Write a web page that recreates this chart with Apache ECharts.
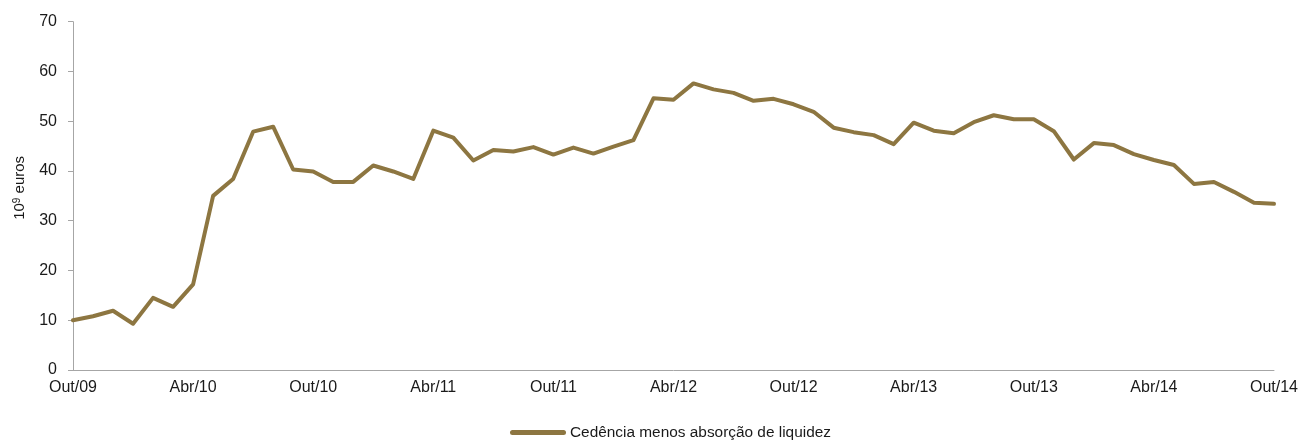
<!DOCTYPE html>
<html>
<head>
<meta charset="utf-8">
<script src="https://cdn.jsdelivr.net/npm/echarts@6/dist/echarts.min.js"></script>
<style>html,body{margin:0;padding:0;background:#fff}#c{width:1301px;height:441px}</style>
</head>
<body>
<div id="c"></div>
<script>
var categories = [
 'Out/09','Nov/09','Dez/09','Jan/10','Fev/10','Mar/10','Abr/10','Mai/10','Jun/10','Jul/10','Ago/10','Set/10',
 'Out/10','Nov/10','Dez/10','Jan/11','Fev/11','Mar/11','Abr/11','Mai/11','Jun/11','Jul/11','Ago/11','Set/11',
 'Out/11','Nov/11','Dez/11','Jan/12','Fev/12','Mar/12','Abr/12','Mai/12','Jun/12','Jul/12','Ago/12','Set/12',
 'Out/12','Nov/12','Dez/12','Jan/13','Fev/13','Mar/13','Abr/13','Mai/13','Jun/13','Jul/13','Ago/13','Set/13',
 'Out/13','Nov/13','Dez/13','Jan/14','Fev/14','Mar/14','Abr/14','Mai/14','Jun/14','Jul/14','Ago/14','Set/14',
 'Out/14'
];
var values = [
 10.0,10.8,11.9,9.3,14.5,12.7,17.2,35.0,38.4,47.9,48.9,40.3,
 39.9,37.8,37.8,41.1,39.9,38.4,48.1,46.7,42.1,44.2,43.9,44.8,
 43.3,44.7,43.5,44.9,46.2,54.6,54.3,57.6,56.4,55.7,54.1,54.5,
 53.4,51.9,48.7,47.8,47.2,45.4,49.7,48.1,47.6,49.8,51.2,50.4,
 50.4,48.0,42.3,45.6,45.2,43.4,42.2,41.2,37.4,37.8,35.8,33.6,
 33.4
];
var seriesName = 'Cedência menos absorção de liquidez';
var yAxisName = '{a|10}{sup|9}{a| euros}';

var font = '"Liberation Sans", Arial, sans-serif';
var chart = echarts.init(document.getElementById('c'), null, {renderer: 'canvas'});
chart.setOption({
  animation: false,
  grid: {left: 73, right: 23, top: 21.7, bottom: 71, containLabel: false},
  legend: {
    left: 510, top: 425, padding: 0,
    itemWidth: 56, itemHeight: 5, itemGap: 4,
    textStyle: {fontFamily: font, fontSize: 15.4, color: '#1a1a1a', padding: [4, 0, 0, -1]},
    data: [{name: seriesName, icon: 'path://M2.5,0 L53.5,0 A2.5,2.5 0 0 1 53.5,5 L2.5,5 A2.5,2.5 0 0 1 2.5,0 Z'}]
  },
  xAxis: {
    type: 'category',
    data: categories,
    boundaryGap: false,
    axisLine: {lineStyle: {color: '#a6a6a6', width: 1}},
    axisTick: {show: false},
    axisLabel: {interval: 5, color: '#1a1a1a', fontFamily: font, fontSize: 16, margin: 10}
  },
  yAxis: {
    type: 'value',
    min: 0, max: 70, interval: 10,
    name: yAxisName,
    nameLocation: 'middle',
    nameRotate: 90,
    nameGap: 45,
    nameTextStyle: {
      fontFamily: font, fontSize: 15, color: '#1a1a1a', padding: [0, 0, 0, 16],
      rich: {
        a: {fontFamily: font, fontSize: 15, color: '#1a1a1a'},
        sup: {fontFamily: font, fontSize: 10, color: '#1a1a1a', verticalAlign: 'top', padding: [0, 0, 6, 0]}
      }
    },
    axisLine: {show: true, lineStyle: {color: '#a6a6a6', width: 1}},
    axisTick: {show: true, inside: false, length: 5, lineStyle: {color: '#a6a6a6'}},
    splitLine: {show: false},
    axisLabel: {color: '#1a1a1a', fontFamily: font, fontSize: 16, margin: 16}
  },
  series: [{
    name: seriesName,
    type: 'line',
    data: values,
    symbol: 'none',
    lineStyle: {color: '#8d7641', width: 4, join: 'round', cap: 'round'},
    itemStyle: {color: '#8d7641'}
  }]
});
</script>
</body>
</html>
